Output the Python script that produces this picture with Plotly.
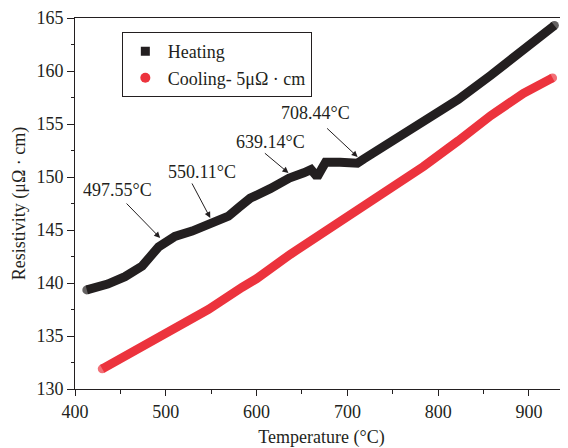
import plotly.graph_objects as go

# Heating curve (black)
heat_T = [413, 436, 455, 474, 492, 510, 529, 549, 569, 580, 593, 615, 636, 652,
          660, 665, 668, 672, 676, 692, 711, 718, 748, 784, 822, 858, 890, 928]
heat_R = [139.35, 139.9, 140.6, 141.6, 143.4, 144.4, 144.9, 145.6, 146.3, 147.1,
          148.0, 148.9, 149.9, 150.4, 150.7, 150.2, 150.2, 150.8, 151.4, 151.4,
          151.3, 151.7, 153.3, 155.4, 157.3, 159.6, 161.7, 164.3]

# Cooling curve (red), shifted by -5 µΩ·cm
cool_T = [430, 474, 510, 547, 584, 600, 637, 692, 748, 784, 822, 858, 894, 926]
cool_R = [131.9, 134.0, 135.65, 137.5, 139.6, 140.4, 142.7, 145.8, 148.8, 151.0,
          153.4, 155.8, 157.9, 159.35]

x_ticks = [400, 500, 600, 700, 800, 900]
y_ticks = [130, 135, 140, 145, 150, 155, 160, 165]

BLACK = "#231f20"
RED = "#ec333d"
FONT = "Liberation Serif"


def end_sizes(n, s=9):
    # round caps only at the two ends of the drawn curve
    return [s] + [0] * (n - 2) + [s]


fig = go.Figure()
fig.add_trace(go.Scatter(x=heat_T, y=heat_R, mode="lines+markers",
                         line=dict(color=BLACK, width=9),
                         marker=dict(symbol="circle", size=end_sizes(len(heat_T)),
                                     color=BLACK, line=dict(width=0)),
                         showlegend=False, hoverinfo="skip"))
fig.add_trace(go.Scatter(x=cool_T, y=cool_R, mode="lines+markers",
                         line=dict(color=RED, width=9),
                         marker=dict(symbol="circle", size=end_sizes(len(cool_T)),
                                     color=RED, line=dict(width=0)),
                         showlegend=False, hoverinfo="skip"))
fig.add_trace(go.Scatter(x=[None], y=[None], mode="markers", name="Heating",
                         marker=dict(symbol="square", size=9, color=BLACK)))
fig.add_trace(go.Scatter(x=[None], y=[None], mode="markers", name="Cooling- 5μΩ · cm",
                         marker=dict(symbol="circle", size=10, color=RED)))

# annotations: (label, text_x, text_y, tail_x, tail_y, tip_x, tip_y)
notes = [
    ("497.55°C", 446.4, 148.8, 455.2, 147.64, 493.8, 144.25),
    ("550.11°C", 540.2, 150.5, 528.0, 149.53, 549.0, 146.13),
    ("639.14°C", 615.2, 153.3, 607.5, 152.36, 635.1, 150.38),
    ("708.44°C", 665.0, 156.05, 676.0, 154.72, 711.3, 151.89),
]
anns = []
for lab, tx, ty, ax, ay, px, py in notes:
    anns.append(dict(x=tx, y=ty, xref="x", yref="y", text=lab, showarrow=False,
                     font=dict(family=FONT, size=18, color=BLACK)))
    anns.append(dict(x=px, y=py, ax=ax, ay=ay, xref="x", yref="y", axref="x", ayref="y",
                     text="", showarrow=True, arrowhead=2, arrowsize=1.2,
                     arrowwidth=1, arrowcolor=BLACK))

fig.update_layout(
    width=560, height=440,
    margin=dict(l=67, r=0, t=10, b=59),
    paper_bgcolor="white", plot_bgcolor="white",
    font=dict(family=FONT, size=18, color=BLACK),
    annotations=anns,
    legend=dict(x=0.095, y=0.962, xanchor="left", yanchor="top",
                bordercolor=BLACK, borderwidth=1, bgcolor="white",
                font=dict(family=FONT, size=18, color=BLACK),
                tracegroupgap=0, itemwidth=35),
)
fig.update_xaxes(range=[400, 943], tickvals=x_ticks, ticks="outside", ticklen=6,
                 tickwidth=1, tickcolor=BLACK, showline=True, linecolor=BLACK,
                 linewidth=1, mirror=True, showgrid=False, zeroline=False,
                 minor=dict(dtick=50, ticks="outside", ticklen=4, tickcolor=BLACK),
                 title=dict(text="Temperature (°C)", font=dict(size=18), standoff=13),
                 tickfont=dict(size=18))
fig.update_yaxes(range=[130, 165], tickvals=y_ticks, ticks="outside", ticklen=7,
                 tickwidth=1, tickcolor=BLACK, showline=True, linecolor=BLACK,
                 linewidth=1, mirror=False, showgrid=False, zeroline=False,
                 minor=dict(dtick=2.5, ticks="outside", ticklen=3, tickcolor=BLACK),
                 title=dict(text="Resistivity (μΩ · cm)", font=dict(size=18), standoff=6),
                 tickfont=dict(size=18))

fig.write_html("out.html")
